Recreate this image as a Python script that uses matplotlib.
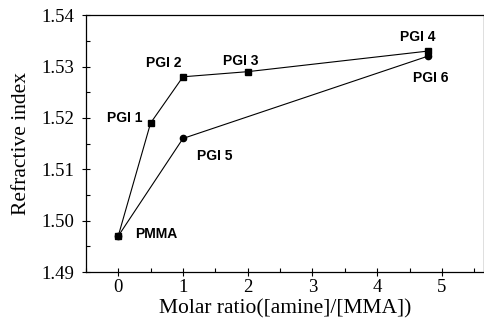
import matplotlib
matplotlib.use('Agg')
import matplotlib.pyplot as plt
from matplotlib.ticker import MultipleLocator, FormatStrFormatter

# Series A (squares): PMMA, PGI 1..4
ratioA = [0, 0.5, 1, 2, 4.78]
indexA = [1.497, 1.519, 1.528, 1.529, 1.533]
labelsA = ['PMMA', 'PGI 1', 'PGI 2', 'PGI 3', 'PGI 4']

# Series B (circles): PMMA, PGI 5, PGI 6
ratioB = [0, 1, 4.78]
indexB = [1.497, 1.516, 1.532]
labelsB = ['', 'PGI 5', 'PGI 6']

#label offsets in pixels (dx, dy) from the point to the text centre
offsetsA = [(38, 2), (-26, 5), (-19, 14), (-7, 11), (-10, 14)]
offsetsB = [None, (32, -18), (3, -22)]

fig = plt.figure(figsize=(4.85, 3.22), dpi=100)
ax = fig.add_axes([0.177, 0.155, 0.821, 0.798])

ax.plot(ratioA, indexA, color='black', lw=0.8, marker='s', ms=4.5)
ax.plot(ratioB, indexB, color='black', lw=0.8, marker='o', ms=4.5)

for x, y, lab, off in list(zip(ratioA, indexA, labelsA, offsetsA)) + list(zip(ratioB, indexB, labelsB, offsetsB)):
    if off is None:
        continue
    ax.annotate(lab, (x, y), xytext=off, textcoords='offset pixels',
                ha='center', va='center', fontsize=10, fontweight='bold', family='Liberation Sans')

ax.set_xlim(-0.5, 5.65)
ax.set_ylim(1.49, 1.54)
ax.xaxis.set_major_locator(MultipleLocator(1))
ax.xaxis.set_minor_locator(MultipleLocator(0.5))
ax.yaxis.set_major_locator(MultipleLocator(0.01))
ax.yaxis.set_minor_locator(MultipleLocator(0.005))
ax.yaxis.set_major_formatter(FormatStrFormatter('%.2f'))
ax.tick_params(which='major', direction='inout', length=6, width=0.8, labelsize=13.5, pad=2)
ax.tick_params(axis='y', which='major', pad=5)
ax.tick_params(which='minor', direction='in', length=3, width=0.8)
for lab in ax.get_xticklabels() + ax.get_yticklabels():
    lab.set_family('Liberation Serif')
for sp in ax.spines.values():
    sp.set_linewidth(0.9)

ax.set_xlabel('Molar ratio([amine]/[MMA])', family='Liberation Serif', fontsize=15.5, labelpad=2)
ax.set_ylabel('Refractive index', family='Liberation Serif', fontsize=15.5, labelpad=8)

fig.savefig('out.png', dpi=100)
